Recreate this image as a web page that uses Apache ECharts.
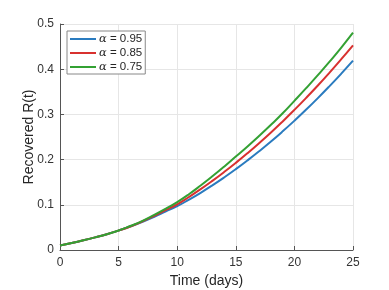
<!DOCTYPE html>
<html>
<head>
<meta charset="utf-8">
<script src="https://cdn.jsdelivr.net/npm/echarts@6/dist/echarts.min.js"></script>
<style>html,body{margin:0;padding:0;background:#fff}#c{width:389px;height:290px}</style>
</head>
<body>
<div id="c"></div>
<script>
var days = [0,1,2,3,4,5,6,7,8,9,10,11,12,13,14,15,16,17,18,19,20,21,22,23,24,25];
var r095 = [0.010,0.0155,0.0215,0.028,0.035,0.043,0.052,0.062,0.073,0.085,0.097,0.1113,0.1266,0.1430,0.1604,0.1788,0.1982,0.2186,0.2400,0.2625,0.2860,0.3105,0.3360,0.3626,0.3902,0.4188];
var r085 = [0.010,0.0155,0.0215,0.028,0.035,0.043,0.052,0.063,0.075,0.088,0.101,0.1173,0.1346,0.1530,0.1724,0.1928,0.2142,0.2366,0.2600,0.2845,0.3100,0.3365,0.3640,0.3926,0.4222,0.4528];
var r075 = [0.010,0.0155,0.0215,0.028,0.035,0.043,0.053,0.064,0.077,0.091,0.106,0.1233,0.1426,0.1630,0.1844,0.2068,0.2292,0.2526,0.2770,0.3025,0.3300,0.3580,0.3868,0.4166,0.4478,0.4808];
var seriesNames = ['α = 0.95','α = 0.85','α = 0.75'];
var seriesData = [r095, r085, r075];
var colors = ['#2a7bbf','#d8312f','#33a133'];

function pairs(arr){ return days.map(function(d,i){ return [d, arr[i]]; }); }

var chart = echarts.init(document.getElementById('c'));
var font = 'Liberation Sans, Arial, sans-serif';
chart.setOption({
  animation: false,
  backgroundColor: '#fff',
  grid: {left: 60, right: 36, top: 24, bottom: 40, containLabel: false, outerBoundsMode: 'none'},
  legend: {
    orient: 'vertical', left: 67, top: 31,
    backgroundColor: '#fff', borderColor: '#888', borderWidth: 1,
    padding: [2, 3, 1, 3], itemGap: 2, itemWidth: 26, itemHeight: 12,
    icon: 'path://M0,4 L26,4 L26,6 L0,6 Z',
    data: seriesNames,
    formatter: function(n){ return '{g|α}' + n.slice(1); },
    textStyle: {color: '#262626', fontSize: 11.5, fontFamily: font, padding: [0,0,0,-2],
      rich: {g: {fontFamily: 'DejaVu Serif, serif', fontStyle: 'italic', fontSize: 11.5, color: '#262626'}}}
  },
  xAxis: {
    type: 'value', min: 0, max: 25, interval: 5,
    name: 'Time (days)', nameLocation: 'middle', nameGap: 24, nameMoveOverlap: false,
    nameTextStyle: {fontSize: 14, color: '#262626', fontFamily: font},
    axisLine: {onZero: false, lineStyle: {color: '#555', width: 1}},
    axisTick: {inside: true, length: 4, lineStyle: {color: '#555'}},
    axisLabel: {fontSize: 12, color: '#333', fontFamily: font, margin: 7},
    splitLine: {show: true, lineStyle: {color: '#e6e6e6', width: 1}}
  },
  yAxis: {
    type: 'value', min: 0, max: 0.5, interval: 0.1,
    name: 'Recovered R(t)', nameLocation: 'middle', nameGap: 24, nameMoveOverlap: false,
    nameTextStyle: {fontSize: 14, color: '#262626', fontFamily: font},
    axisLine: {show: true, onZero: false, lineStyle: {color: '#555', width: 1}},
    axisTick: {show: true, inside: true, length: 4, lineStyle: {color: '#555'}},
    axisLabel: {fontSize: 12, color: '#333', fontFamily: font, margin: 6},
    splitLine: {show: true, lineStyle: {color: '#e6e6e6', width: 1}}
  },
  series: seriesNames.map(function(n, i){
    return {name: n, type: 'line', data: pairs(seriesData[i]), smooth: true, showSymbol: false,
      symbol: 'none', lineStyle: {color: colors[i], width: 2}, itemStyle: {color: colors[i]}};
  })
});
</script>
</body>
</html>
